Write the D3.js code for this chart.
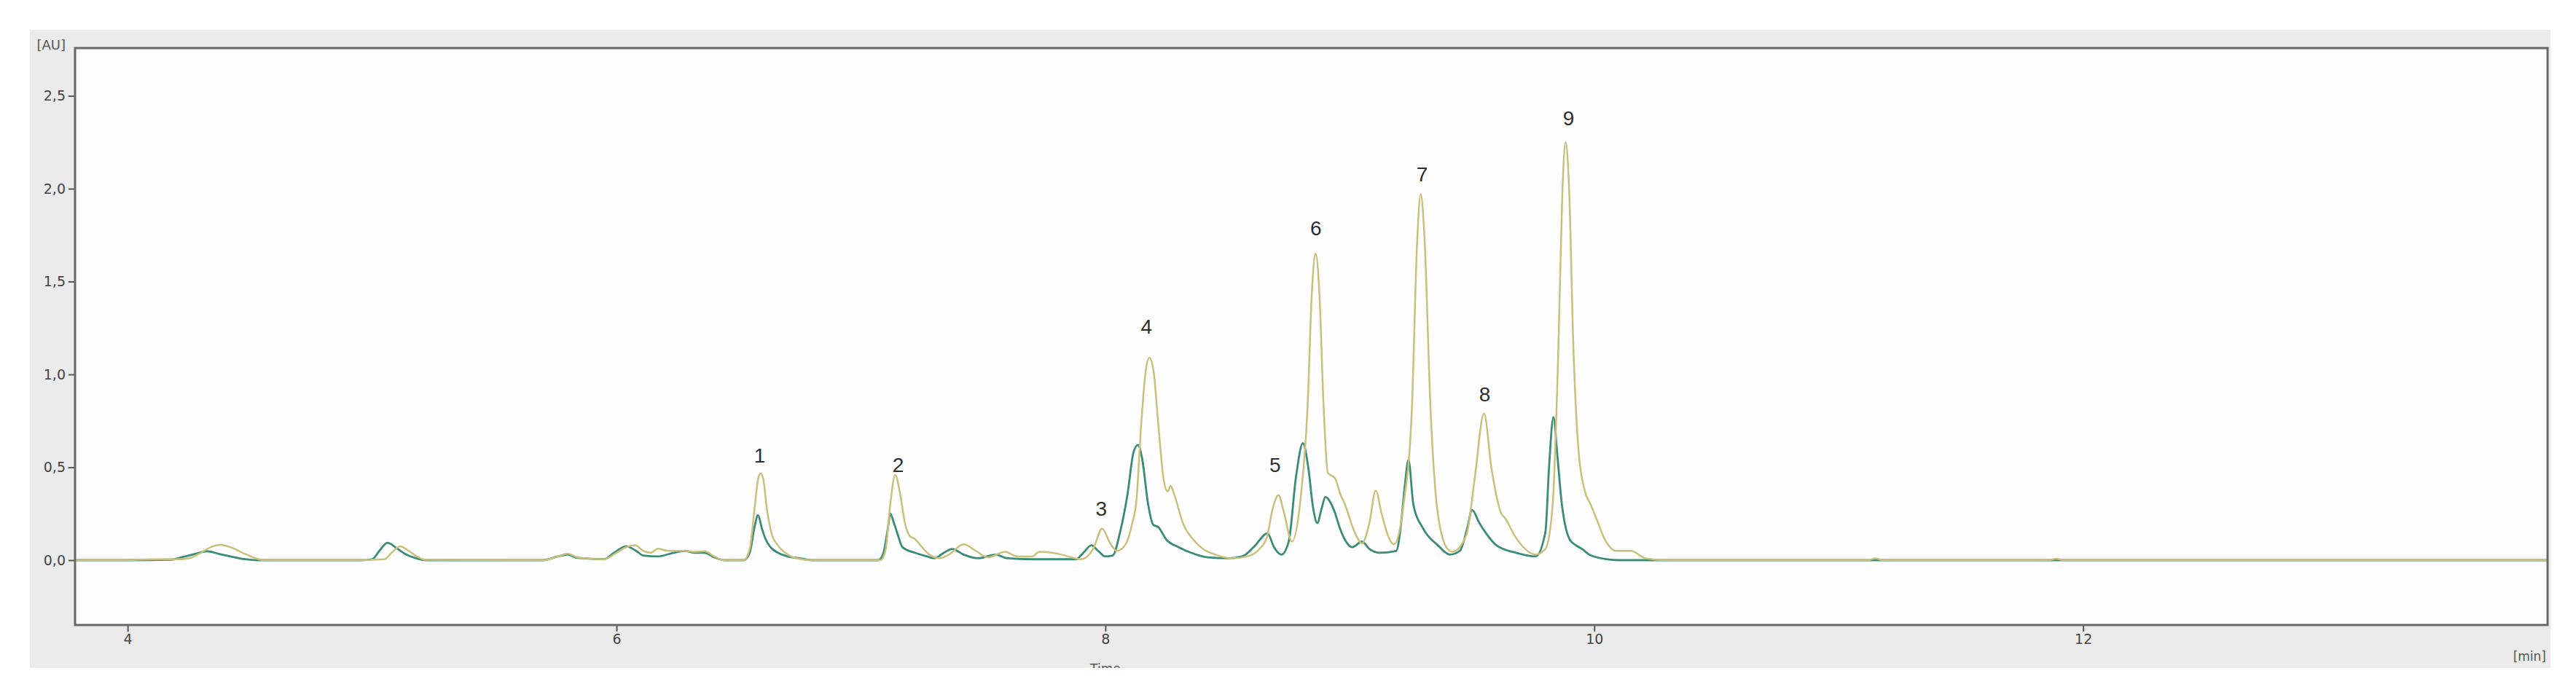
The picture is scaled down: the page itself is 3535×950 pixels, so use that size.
<!DOCTYPE html>
<html lang="en">
<head>
    <meta charset="UTF-8">
    <title>Chromatogram</title>
    <style>
        body {
            margin: 0;
            background: #fff;
            font-family: "DejaVu Sans", sans-serif;
        }
        .tick text {
            fill: #444;
            font-size: 19px;
            font-family: "DejaVu Sans", sans-serif;
        }
        .tick line {
            stroke: #555;
            stroke-width: 2;
        }
        .peak-label {
            font-family: "Liberation Sans", Arial, sans-serif;
            font-size: 28px;
            fill: #2e2e2e;
            text-anchor: middle;
        }
    </style>
</head>
<body>
<script src="https://d3js.org/d3.v7.min.js"></script>
<script>
    // trace 1 (khaki) : [time min, absorbance AU]
    const traceKhaki = [
        [3.785, 0.0], [4.0, 0.0], [4.1, 0.005], [4.2, 0.005], [4.25, 0.01], [4.30, 0.04], [4.34, 0.07],
        [4.38, 0.082], [4.42, 0.07], [4.47, 0.04], [4.52, 0.012], [4.56, 0.0], [4.9, 0.0], [5.05, 0.005],
        [5.08, 0.04], [5.115, 0.075], [5.15, 0.05], [5.19, 0.015], [5.22, 0.002], [5.7, 0.0], [5.76, 0.02],
        [5.80, 0.035], [5.84, 0.015], [5.95, 0.005], [6.0, 0.04], [6.04, 0.07], [6.076, 0.08], [6.11, 0.05],
        [6.14, 0.04], [6.17, 0.062], [6.21, 0.05], [6.28, 0.05], [6.32, 0.045], [6.36, 0.048], [6.40, 0.02],
        [6.44, 0.0], [6.52, 0.0], [6.545, 0.06], [6.565, 0.28], [6.58, 0.44], [6.59, 0.467], [6.60, 0.44],
        [6.615, 0.28], [6.635, 0.14], [6.657, 0.085], [6.69, 0.04], [6.73, 0.012], [6.8, 0.0], [7.08, 0.0],
        [7.10, 0.05], [7.12, 0.3], [7.14, 0.46], [7.16, 0.36], [7.18, 0.2], [7.20, 0.13], [7.22, 0.115],
        [7.25, 0.07], [7.28, 0.03], [7.32, 0.01], [7.36, 0.03], [7.42, 0.085], [7.47, 0.05], [7.52, 0.015],
        [7.59, 0.045], [7.64, 0.02], [7.70, 0.02], [7.73, 0.045], [7.78, 0.04], [7.82, 0.03], [7.90, 0.005],
        [7.95, 0.06], [7.987, 0.17], [8.02, 0.09], [8.047, 0.05], [8.08, 0.08], [8.11, 0.2], [8.127, 0.32],
        [8.147, 0.74], [8.165, 1.02], [8.18, 1.09], [8.197, 1.02], [8.216, 0.74], [8.24, 0.42], [8.255, 0.37],
        [8.267, 0.40], [8.28, 0.36], [8.32, 0.19], [8.36, 0.11], [8.40, 0.06], [8.45, 0.03], [8.52, 0.01],
        [8.58, 0.02], [8.63, 0.06], [8.66, 0.12], [8.685, 0.28], [8.708, 0.35], [8.73, 0.26], [8.763, 0.10],
        [8.80, 0.35], [8.827, 0.82], [8.845, 1.45], [8.86, 1.65], [8.875, 1.45], [8.893, 0.82], [8.91, 0.47],
        [8.94, 0.44], [8.96, 0.36], [8.98, 0.30], [9.02, 0.15], [9.05, 0.09], [9.08, 0.2], [9.106, 0.375],
        [9.13, 0.25], [9.16, 0.12], [9.18, 0.085], [9.22, 0.3], [9.254, 0.82], [9.275, 1.7], [9.29, 1.97],
        [9.305, 1.75], [9.33, 0.82], [9.36, 0.25], [9.40, 0.06], [9.42, 0.045], [9.478, 0.14], [9.51, 0.43],
        [9.549, 0.79], [9.58, 0.49], [9.62, 0.25], [9.633, 0.23], [9.68, 0.12], [9.76, 0.03], [9.80, 0.06],
        [9.83, 0.3], [9.853, 1.13], [9.87, 2.0], [9.883, 2.25], [9.897, 2.0], [9.915, 1.13], [9.935, 0.6],
        [9.96, 0.38], [9.985, 0.30], [10.01, 0.22], [10.04, 0.12], [10.09, 0.05], [10.15, 0.05], [10.21, 0.01],
        [10.3, 0.0], [11.12, 0.0], [11.15, 0.01], [11.18, 0.0], [11.86, 0.0], [11.89, 0.008], [11.92, 0.0],
        [13.9, 0.0]
    ];

    // trace 2 (teal)
    const traceTeal = [
        [3.785, 0.0], [4.0, 0.0], [4.18, 0.003], [4.22, 0.015], [4.28, 0.035], [4.325, 0.048], [4.37, 0.035],
        [4.42, 0.02], [4.48, 0.005], [4.53, 0.0], [4.95, 0.0], [5.00, 0.005], [5.03, 0.05], [5.063, 0.094],
        [5.10, 0.065], [5.14, 0.03], [5.18, 0.01], [5.22, 0.0], [5.7, 0.0], [5.76, 0.02], [5.80, 0.03],
        [5.84, 0.012], [5.95, 0.005], [5.99, 0.04], [6.04, 0.075], [6.08, 0.05], [6.11, 0.025], [6.17, 0.02],
        [6.22, 0.035], [6.28, 0.05], [6.32, 0.04], [6.36, 0.04], [6.40, 0.015], [6.44, 0.0], [6.52, 0.0],
        [6.545, 0.04], [6.565, 0.18], [6.579, 0.243], [6.595, 0.17], [6.61, 0.113], [6.63, 0.07], [6.66, 0.04],
        [6.70, 0.02], [6.75, 0.01], [6.8, 0.0], [7.07, 0.0], [7.09, 0.03], [7.11, 0.17], [7.12, 0.25],
        [7.135, 0.2], [7.15, 0.14], [7.17, 0.07], [7.22, 0.04], [7.27, 0.02], [7.30, 0.01], [7.34, 0.04],
        [7.373, 0.06], [7.42, 0.03], [7.48, 0.01], [7.55, 0.03], [7.60, 0.01], [7.70, 0.005], [7.88, 0.005],
        [7.91, 0.04], [7.943, 0.08], [7.97, 0.05], [8.0, 0.02], [8.03, 0.025], [8.06, 0.15], [8.09, 0.35],
        [8.115, 0.58], [8.133, 0.62], [8.15, 0.55], [8.175, 0.3], [8.196, 0.19], [8.215, 0.18], [8.25, 0.11],
        [8.30, 0.07], [8.35, 0.04], [8.42, 0.015], [8.5, 0.01], [8.56, 0.02], [8.61, 0.075], [8.663, 0.145],
        [8.69, 0.07], [8.72, 0.03], [8.75, 0.1], [8.78, 0.45], [8.808, 0.63], [8.83, 0.5], [8.85, 0.28],
        [8.867, 0.2], [8.885, 0.28], [8.90, 0.34], [8.935, 0.27], [8.96, 0.17], [8.98, 0.11], [9.01, 0.07],
        [9.05, 0.1], [9.08, 0.06], [9.12, 0.04], [9.19, 0.05], [9.21, 0.2], [9.225, 0.4], [9.24, 0.54],
        [9.26, 0.3], [9.30, 0.17], [9.36, 0.08], [9.41, 0.03], [9.45, 0.05], [9.48, 0.17], [9.50, 0.27],
        [9.53, 0.2], [9.56, 0.14], [9.60, 0.08], [9.68, 0.04], [9.76, 0.02], [9.80, 0.15], [9.815, 0.5],
        [9.833, 0.77], [9.85, 0.55], [9.865, 0.33], [9.9, 0.11], [9.925, 0.08], [9.95, 0.06], [9.98, 0.03],
        [10.05, 0.005], [10.1, 0.0], [13.9, 0.0]
    ];

    const peakLabels = ["1", "2", "3", "4", "5", "6", "7", "8", "9"];
    const peakLabelTimes = [6.586, 7.152, 7.983, 8.168, 8.694, 8.861, 9.296, 9.552, 9.895];
    const peakLabelLevels = [0.525, 0.475, 0.24, 1.22, 0.475, 1.75, 2.04, 0.855, 2.34];

    const xTicks = [4, 6, 8, 10, 12];
    const yTicks = [0, 0.5, 1.0, 1.5, 2.0, 2.5];

    const width = 3535;
    const height = 950;
    const plot = {left: 103, right: 3496, top: 66, bottom: 858};

    const svg = d3.select("body")
        .append("svg")
        .attr("width", width)
        .attr("height", height);

    // grey panel behind the plot
    svg.append("rect")
        .attr("x", 41)
        .attr("y", 41)
        .attr("width", 3459)
        .attr("height", 876)
        .attr("fill", "#ebebeb");

    svg.append("defs").append("clipPath")
        .attr("id", "panel-clip")
        .append("rect")
        .attr("x", 41).attr("y", 41).attr("width", 3459).attr("height", 876);

    svg.append("defs").append("clipPath")
        .attr("id", "plot-clip")
        .append("rect")
        .attr("x", plot.left).attr("y", plot.top)
        .attr("width", plot.right - plot.left).attr("height", plot.bottom - plot.top);

    svg.append("rect")
        .attr("x", plot.left)
        .attr("y", plot.top)
        .attr("width", plot.right - plot.left)
        .attr("height", plot.bottom - plot.top)
        .attr("fill", "#fefefe");

    const xScale = d3.scaleLinear()
        .domain([3.785, 13.9])
        .range([plot.left, plot.right]);

    const yScale = d3.scaleLinear()
        .domain([-0.349, 2.757])
        .range([plot.bottom, plot.top]);

    const line = d3.line()
        .x(d => xScale(d[0]))
        .y(d => yScale(d[1]))
        .curve(d3.curveMonotoneX);

    const traces = svg.append("g").attr("clip-path", "url(#plot-clip)");

    traces.append("path")
        .datum(traceTeal)
        .attr("d", line)
        .attr("fill", "none")
        .attr("stroke", "#3a8c76")
        .attr("stroke-width", 2.8)
        .attr("stroke-linejoin", "round");

    traces.append("path")
        .datum(traceKhaki)
        .attr("d", line)
        .attr("fill", "none")
        .attr("stroke", "#c9c07c")
        .attr("stroke-width", 2.5)
        .attr("stroke-linejoin", "round");

    // axes
    const fmt = d => d.toFixed(1).replace(".", ",");

    svg.append("g")
        .attr("transform", "translate(" + plot.left + ",0)")
        .call(d3.axisLeft(yScale).tickValues(yTicks).tickSize(9).tickPadding(4).tickFormat(fmt))
        .call(g => g.select(".domain").remove());

    svg.append("g")
        .attr("transform", "translate(0," + plot.bottom + ")")
        .call(d3.axisBottom(xScale).tickValues(xTicks).tickSize(9).tickPadding(4).tickFormat(d3.format("d")))
        .call(g => g.select(".domain").remove());

    // frame
    svg.append("rect")
        .attr("x", plot.left)
        .attr("y", plot.top)
        .attr("width", plot.right - plot.left)
        .attr("height", plot.bottom - plot.top)
        .attr("fill", "none")
        .attr("stroke", "#686868")
        .attr("stroke-width", 3);

    // peak numbers
    svg.selectAll(".peak-label")
        .data(peakLabels)
        .enter()
        .append("text")
        .attr("class", "peak-label")
        .attr("x", (d, i) => xScale(peakLabelTimes[i]))
        .attr("y", (d, i) => yScale(peakLabelLevels[i]))
        .text(d => d);

    // unit labels
    svg.append("text")
        .attr("x", 90)
        .attr("y", 68)
        .attr("text-anchor", "end")
        .attr("fill", "#555")
        .style("font-size", "18px")
        .text("[AU]");

    svg.append("text")
        .attr("x", 3494)
        .attr("y", 907)
        .attr("text-anchor", "end")
        .attr("fill", "#555")
        .style("font-size", "17px")
        .text("[min]");

    svg.append("text")
        .attr("clip-path", "url(#panel-clip)")
        .attr("x", xScale(8))
        .attr("y", 924)
        .attr("text-anchor", "middle")
        .attr("fill", "#555")
        .style("font-size", "17px")
        .text("Time");
</script>
</body>
</html>
